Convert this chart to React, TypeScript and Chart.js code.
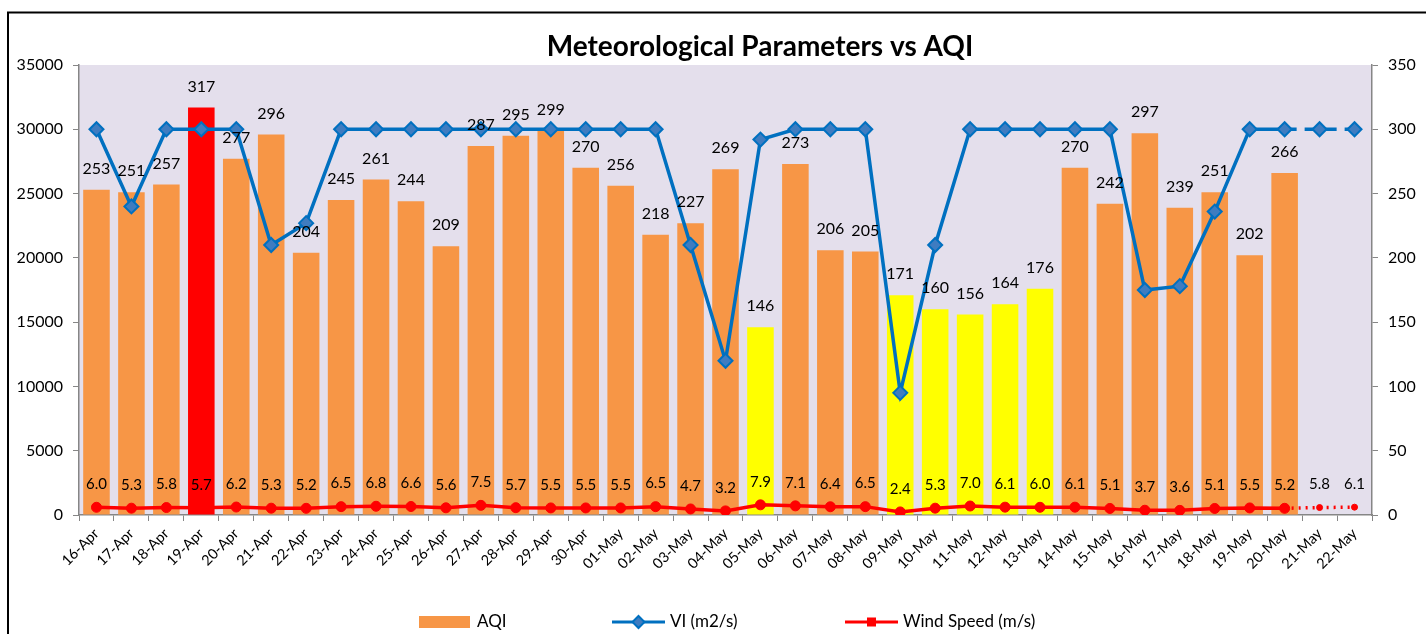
import React, { useEffect, useRef } from "react";
import { Chart, registerables } from "chart.js";

Chart.register(...registerables);

const FONT = "Lato, 'Open Sans', sans-serif";

const dates = [
  "16-Apr", "17-Apr", "18-Apr", "19-Apr", "20-Apr", "21-Apr", "22-Apr", "23-Apr", "24-Apr", "25-Apr",
  "26-Apr", "27-Apr", "28-Apr", "29-Apr", "30-Apr", "01-May", "02-May", "03-May", "04-May", "05-May",
  "06-May", "07-May", "08-May", "09-May", "10-May", "11-May", "12-May", "13-May", "14-May", "15-May",
  "16-May", "17-May", "18-May", "19-May", "20-May", "21-May", "22-May",
];

const aqi: (number | null)[] = [
  253, 251, 257, 317, 277, 296, 204, 245, 261, 244,
  209, 287, 295, 299, 270, 256, 218, 227, 269, 146,
  273, 206, 205, 171, 160, 156, 164, 176, 270, 242,
  297, 239, 251, 202, 266, null, null,
];

const vi = [
  30000, 24000, 30000, 30000, 30000, 21000, 22700, 30000, 30000, 30000,
  30000, 30000, 30000, 30000, 30000, 30000, 30000, 21000, 12000, 29200,
  30000, 30000, 30000, 9500, 21000, 30000, 30000, 30000, 30000, 30000,
  17500, 17800, 23600, 30000, 30000, 30000, 30000,
];

const wind = [
  6.0, 5.3, 5.8, 5.7, 6.2, 5.3, 5.2, 6.5, 6.8, 6.6,
  5.6, 7.5, 5.7, 5.5, 5.5, 5.5, 6.5, 4.7, 3.2, 7.9,
  7.1, 6.4, 6.5, 2.4, 5.3, 7.0, 6.1, 6.0, 6.1, 5.1,
  3.7, 3.6, 5.1, 5.5, 5.2, 5.8, 6.1,
];

const aqiColors = aqi.map((v) => {
  if (v == null) return "#F79646";
  if (v > 300) return "#FF0000";
  if (v < 200) return "#FFFF00";
  return "#F79646";
});

const LAST_ACTUAL = 34;

const bgPlugin = {
  id: "bgPlugin",
  beforeDraw(chart: any) {
    const { ctx, chartArea } = chart;
    ctx.save();
    ctx.fillStyle = "#FFFFFF";
    ctx.fillRect(0, 0, chart.width, chart.height);
    ctx.fillStyle = "#E4DFEC";
    ctx.fillRect(chartArea.left, chartArea.top, chartArea.right - chartArea.left, chartArea.bottom - chartArea.top);
    // outer frame
    ctx.strokeStyle = "#000";
    ctx.lineWidth = 2;
    ctx.beginPath();
    ctx.moveTo(8, chart.height);
    ctx.lineTo(8, 12.5);
    ctx.lineTo(chart.width, 12.5);
    ctx.stroke();
    // title
    ctx.fillStyle = "#000";
    ctx.font = `bold 28px ${FONT}`;
    ctx.textAlign = "center";
    ctx.textBaseline = "middle";
    ctx.fillText("Meteorological Parameters vs AQI", 760, 47);
    ctx.restore();
  },
};

const labelPlugin = {
  id: "labelPlugin",
  afterDatasetsDraw(chart: any) {
    const { ctx } = chart;
    ctx.save();
    ctx.fillStyle = "#000";
    ctx.textAlign = "center";
    ctx.textBaseline = "middle";
    ctx.font = `16px ${FONT}`;
    chart.getDatasetMeta(0).data.forEach((el: any, i: number) => {
      const v = aqi[i];
      if (v == null) return;
      ctx.fillText(String(v), el.x, el.y - 21);
    });
    ctx.font = `15px ${FONT}`;
    chart.getDatasetMeta(2).data.forEach((el: any, i: number) => {
      ctx.fillText(wind[i].toFixed(1), el.x, el.y - 23);
    });

    // legend
    const ly = 622;
    ctx.font = `17px ${FONT}`;
    ctx.textAlign = "left";
    ctx.fillStyle = "#F79646";
    ctx.fillRect(419, 616, 51, 12);
    ctx.fillStyle = "#000";
    ctx.fillText("AQI", 477, ly);

    ctx.strokeStyle = "#0070C0";
    ctx.lineWidth = 3;
    ctx.beginPath();
    ctx.moveTo(612, ly);
    ctx.lineTo(665, ly);
    ctx.stroke();
    ctx.fillStyle = "#3F7CC0";
    ctx.lineWidth = 2;
    ctx.beginPath();
    ctx.moveTo(638.5, ly - 6);
    ctx.lineTo(644.5, ly);
    ctx.lineTo(638.5, ly + 6);
    ctx.lineTo(632.5, ly);
    ctx.closePath();
    ctx.fill();
    ctx.stroke();
    ctx.fillStyle = "#000";
    ctx.fillText("VI (m2/s)", 670, ly);

    ctx.strokeStyle = "#FF0000";
    ctx.lineWidth = 3;
    ctx.beginPath();
    ctx.moveTo(845, ly);
    ctx.lineTo(898, ly);
    ctx.stroke();
    ctx.fillStyle = "#FF0000";
    ctx.fillRect(867, ly - 4.5, 9, 9);
    ctx.fillStyle = "#000";
    ctx.fillText("Wind Speed (m/s)", 903, ly);
    ctx.restore();
  },
};

export default function App() {
  const ref = useRef<HTMLCanvasElement | null>(null);

  useEffect(() => {
    if (!ref.current) return;
    const chart = new Chart(ref.current, {
      type: "bar",
      data: {
        labels: dates,
        datasets: [
          {
            type: "bar",
            label: "AQI",
            data: aqi,
            backgroundColor: aqiColors,
            borderWidth: 0,
            barPercentage: 0.76,
            categoryPercentage: 1,
            yAxisID: "y1",
            order: 3,
          },
          {
            type: "line",
            label: "VI (m2/s)",
            data: vi,
            borderColor: "#0070C0",
            borderWidth: 3.5,
            pointStyle: "rectRot",
            pointRadius: 7,
            pointBackgroundColor: "#3F7CC0",
            pointBorderColor: "#0070C0",
            pointBorderWidth: 2,
            tension: 0,
            yAxisID: "y",
            order: 2,
            segment: {
              borderDash: (c: any) => (c.p1DataIndex > LAST_ACTUAL ? [12, 8] : undefined),
            },
          } as any,
          {
            type: "line",
            label: "Wind Speed (m/s)",
            data: wind,
            borderColor: "#FF0000",
            borderWidth: 3.5,
            pointStyle: "circle",
            pointRadius: wind.map((_, i) => (i > LAST_ACTUAL ? 3 : 5)),
            pointBackgroundColor: "#FF0000",
            pointBorderColor: "#FF0000",
            pointBorderWidth: 1,
            tension: 0,
            yAxisID: "y1",
            order: 1,
            segment: {
              borderDash: (c: any) => (c.p1DataIndex > LAST_ACTUAL ? [2, 5] : undefined),
            },
          } as any,
        ],
      },
      options: {
        responsive: false,
        animation: false,
        layout: { padding: { top: 65, left: 0, right: 0, bottom: 0 } },
        plugins: {
          legend: { display: false },
          title: { display: false },
          tooltip: { enabled: false },
        },
        scales: {
          x: {
            offset: true,
            grid: {
              offset: true,
              drawOnChartArea: false,
              drawTicks: true,
              tickLength: 6,
              color: "#868686",
            },
            border: { color: "#868686", width: 1.5 },
            ticks: {
              color: "#000",
              font: { family: FONT, size: 14.5 },
              minRotation: 45,
              maxRotation: 45,
              autoSkip: false,
              padding: 4,
            },
            afterFit: (s: any) => {
              s.height = 119;
            },
          },
          y: {
            position: "left",
            min: 0,
            max: 35000,
            ticks: {
              stepSize: 5000,
              color: "#000",
              font: { family: FONT, size: 16 },
              padding: 10,
              callback: (v: any) => String(v),
            },
            grid: { drawOnChartArea: false, tickLength: 6, color: "#868686" },
            border: { color: "#868686", width: 1.5 },
            afterFit: (s: any) => {
              s.width = 79;
            },
          },
          y1: {
            position: "right",
            min: 0,
            max: 350,
            ticks: {
              stepSize: 50,
              color: "#000",
              font: { family: FONT, size: 16 },
              padding: 10,
              callback: (v: any) => String(v),
            },
            grid: { drawOnChartArea: false, tickLength: 6, color: "#868686" },
            border: { color: "#868686", width: 1.5 },
            afterFit: (s: any) => {
              s.width = 54;
            },
          },
        },
      },
      plugins: [bgPlugin, labelPlugin],
    } as any);
    return () => chart.destroy();
  }, []);

  return (
    <div style={{ position: "fixed", left: 0, top: 0, width: 1426, height: 634 }}>
      <canvas ref={ref} width={1426} height={634} style={{ width: 1426, height: 634, display: "block" }} />
    </div>
  );
}
